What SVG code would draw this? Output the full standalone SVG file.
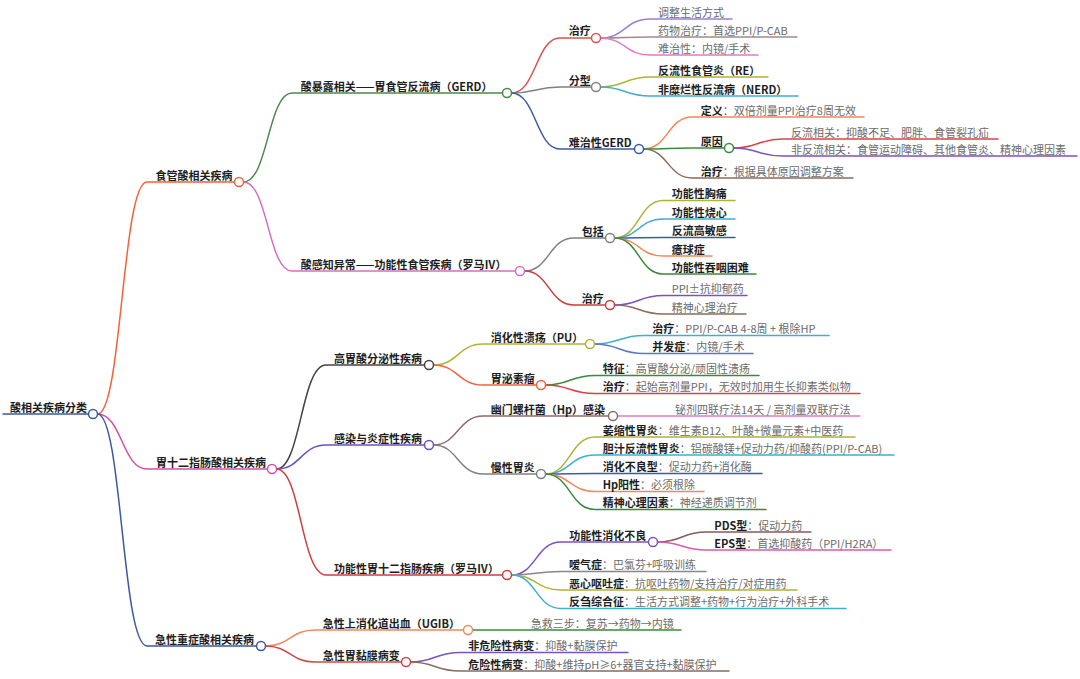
<svg xmlns="http://www.w3.org/2000/svg" width="1080" height="679" viewBox="0 0 1080 679">
<style>
text{font-family:"Noto Sans CJK SC","Noto Sans",sans-serif;font-size:11px;fill:#6b6b6b}
.b{font-weight:700;fill:#1e1e1e}
.c path{fill:none;stroke-width:1.5;stroke-linecap:round}
circle{fill:#fff;stroke-width:1.5}
</style>
<rect width="1080" height="679" fill="#fff"/>
<g id="connectors" class="c">
<path d="M3,414 H88.5" stroke="#3d5a9e"/>
<path d="M97.5,414 C122,414 122,182 147,182 H234.5" stroke="#f4623a"/>
<path d="M97.5,414 C122,414 122,469 147,469 H267.5" stroke="#d44fa8"/>
<path d="M97.5,414 C122,414 122,646 147,646 H256.5" stroke="#3d5a9e"/>
<path d="M243.5,182 C268,182 268,93 292,93 H502" stroke="#4a8a4a"/>
<path d="M243.5,182 C268,182 268,271 292,271 H515.5" stroke="#d46fc0"/>
<path d="M511.5,93 C536,93 536,38 560,38 H591.5" stroke="#d9534f"/>
<path d="M511.5,93 C536,93 536,87 560,87 H591.5" stroke="#808080"/>
<path d="M511.5,93 C536,93 536,149 560,149 H634.5" stroke="#3d5aa8"/>
<path d="M600.5,38 C625,38 625,19 650,19 H732" stroke="#9b7fd4"/>
<path d="M600.5,38 C625,38 625,37 650,37 H797" stroke="#a08c8c"/>
<path d="M600.5,38 C625,38 625,55 650,55 H758" stroke="#e07acb"/>
<path d="M600.5,87 C625,87 625,77 650,77 H768" stroke="#b0b33a"/>
<path d="M600.5,87 C625,87 625,96 650,96 H798" stroke="#3db0d0"/>
<path d="M643.5,149 C668,149 668,117 692,117 H864" stroke="#f5875a"/>
<path d="M643.5,149 C668,149 668,148 692,148 H724.5" stroke="#3a8a3a"/>
<path d="M643.5,149 C668,149 668,178 692,178 H853" stroke="#8b6b5a"/>
<path d="M733.5,148 C758,148 758,139 783,139 H998" stroke="#d64545"/>
<path d="M733.5,148 C758,148 758,156 783,156 H1077" stroke="#7b52c4"/>
<path d="M524.5,271 C549,271 549,238 574,238 H605.5" stroke="#808080"/>
<path d="M524.5,271 C549,271 549,305 574,305 H605.5" stroke="#cc3f3f"/>
<path d="M614.5,238 C639,238 639,200.5 663,200.5 H735" stroke="#b0b33a"/>
<path d="M614.5,238 C639,238 639,219 663,219 H735" stroke="#3db0d0"/>
<path d="M614.5,238 C639,238 639,237.5 663,237.5 H735" stroke="#3d5aa8"/>
<path d="M614.5,238 C639,238 639,256 663,256 H712" stroke="#f5875a"/>
<path d="M614.5,238 C639,238 639,274 663,274 H756" stroke="#3a8a3a"/>
<path d="M614.5,305 C639,305 639,295.5 663,295.5 H747" stroke="#7b52c4"/>
<path d="M614.5,305 C639,305 639,314 663,314 H746" stroke="#8b6b5a"/>
<path d="M276.5,469 C301,469 301,365 326,365 H424.5" stroke="#444"/>
<path d="M276.5,469 C301,469 301,445 326,445 H424.5" stroke="#6b4fc4"/>
<path d="M276.5,469 C301,469 301,575 326,575 H502" stroke="#cc3f3f"/>
<path d="M265.5,646 C290,646 290,630 315,630 H463.5" stroke="#f5875a"/>
<path d="M265.5,646 C290,646 290,662 315,662 H401.5" stroke="#d64545"/>
<path d="M433.5,365 C458,365 458,344 483,344 H585.5" stroke="#b0b33a"/>
<path d="M433.5,365 C458,365 458,385 483,385 H536" stroke="#f4623a"/>
<path d="M594.5,344 C619,344 619,335.5 644,335.5 H829" stroke="#3db0d0"/>
<path d="M594.5,344 C619,344 619,353.5 644,353.5 H753" stroke="#5a7ac0"/>
<path d="M545.5,385 C570,385 570,375.5 595,375.5 H759" stroke="#3a8a3a"/>
<path d="M545.5,385 C570,385 570,393.5 595,393.5 H860" stroke="#d64545"/>
<path d="M433.5,445 C458,445 458,416 483,416 H608.5" stroke="#8b6b6b"/>
<path d="M433.5,445 C458,445 458,474 483,474 H536" stroke="#808080"/>
<path d="M617.5,416 H860" stroke="#e07acb"/>
<path d="M545.5,474 C570,474 570,437 595,437 H855" stroke="#b0b33a"/>
<path d="M545.5,474 C570,474 570,455 595,455 H894" stroke="#3db0d0"/>
<path d="M545.5,474 C570,474 570,473.5 595,473.5 H762" stroke="#3d5aa8"/>
<path d="M545.5,474 C570,474 570,491.5 595,491.5 H704" stroke="#f5875a"/>
<path d="M545.5,474 C570,474 570,509.5 595,509.5 H766" stroke="#3a8a3a"/>
<path d="M511.5,575 C536,575 536,542 561,542 H648" stroke="#7b52c4"/>
<path d="M511.5,575 C536,575 536,571.5 561,571.5 H706" stroke="#888"/>
<path d="M511.5,575 C536,575 536,590 561,590 H797" stroke="#b0b33a"/>
<path d="M511.5,575 C536,575 536,608.5 561,608.5 H846" stroke="#3db0d0"/>
<path d="M657.5,542 C682,542 682,532 706,532 H811" stroke="#8b5a5a"/>
<path d="M657.5,542 C682,542 682,550 706,550 H891" stroke="#e05aa8"/>
<path d="M472.5,630 H681" stroke="#3a8a3a"/>
<path d="M410.5,662 C435,662 435,652.5 460,652.5 H628" stroke="#7b52c4"/>
<path d="M410.5,662 C435,662 435,671 460,671 H729" stroke="#8b6b5a"/>
</g>
<g id="n-root"><text x="10" y="411.5" class="b">酸相关疾病分类</text><circle cx="93" cy="414" r="4.5" stroke="#3d5a9e"/></g>
<g id="n-esoph"><text x="155.5" y="179.5" class="b">食管酸相关疾病</text><circle cx="239" cy="182" r="4.5" stroke="#f4623a"/></g>
<g id="n-gastro"><text x="156" y="466.5" class="b">胃十二指肠酸相关疾病</text><circle cx="272" cy="469" r="4.5" stroke="#d44fa8"/></g>
<g id="n-acute"><text x="155" y="643.5" class="b">急性重症酸相关疾病</text><circle cx="261" cy="646" r="4.5" stroke="#3d5a9e"/></g>
<g id="n-gerd"><text x="300.7" y="90.5" class="b">酸暴露相关——胃食管反流病（GERD）</text><circle cx="507" cy="93" r="4.5" stroke="#4a8a4a"/></g>
<g id="n-func-eso"><text x="300.7" y="268.5" class="b">酸感知异常——功能性食管疾病（罗马Ⅳ）</text><circle cx="520" cy="271" r="4.5" stroke="#d46fc0"/></g>
<g id="n-gerd-tx"><text x="568.7" y="35.2" class="b">治疗</text><circle cx="596" cy="38" r="4.5" stroke="#d9534f"/></g>
<g id="n-gerd-type"><text x="568.7" y="84.5" class="b">分型</text><circle cx="596" cy="87" r="4.5" stroke="#808080"/></g>
<g id="n-rgerd"><text x="568.7" y="146.5" class="b">难治性GERD</text><circle cx="639" cy="149" r="4.5" stroke="#3d5aa8"/></g>
<g id="n-tx1"><text x="658" y="16.5">调整生活方式</text></g>
<g id="n-tx2"><text x="658" y="34.8">药物治疗：首选PPI/P-CAB</text></g>
<g id="n-tx3"><text x="658" y="52.5">难治性：内镜/手术</text></g>
<g id="n-re"><text x="658" y="74.5" class="b">反流性食管炎（RE）</text></g>
<g id="n-nerd"><text x="658" y="93.5" class="b">非糜烂性反流病（NERD）</text></g>
<g id="n-def"><text x="700.7" y="114.8"><tspan class="b">定义</tspan>：双倍剂量PPI治疗8周无效</text></g>
<g id="n-cause"><text x="700.7" y="145.5" class="b">原因</text><circle cx="729" cy="148" r="4.5" stroke="#3a8a3a"/></g>
<g id="n-rtx"><text x="700.7" y="175.8"><tspan class="b">治疗</tspan>：根据具体原因调整方案</text></g>
<g id="n-c1"><text x="791" y="136.8">反流相关：抑酸不足、肥胖、食管裂孔疝</text></g>
<g id="n-c2"><text x="791" y="153.5">非反流相关：食管运动障碍、其他食管炎、精神心理因素</text></g>
<g id="n-incl"><text x="581.7" y="235.5" class="b">包括</text><circle cx="610" cy="238" r="4.5" stroke="#808080"/></g>
<g id="n-ftx"><text x="581.7" y="302.5" class="b">治疗</text><circle cx="610" cy="305" r="4.5" stroke="#cc3f3f"/></g>
<g id="n-i1"><text x="671.7" y="198" class="b">功能性胸痛</text></g>
<g id="n-i2"><text x="671.7" y="216.5" class="b">功能性烧心</text></g>
<g id="n-i3"><text x="671.7" y="235" class="b">反流高敏感</text></g>
<g id="n-i4"><text x="671.7" y="253.5" class="b">癔球症</text></g>
<g id="n-i5"><text x="671.7" y="271.5" class="b">功能性吞咽困难</text></g>
<g id="n-f1"><text x="671.7" y="293">PPI±抗抑郁药</text></g>
<g id="n-f2"><text x="671.7" y="311.5">精神心理治疗</text></g>
<g id="n-hyper"><text x="334" y="362.5" class="b">高胃酸分泌性疾病</text><circle cx="429" cy="365" r="4.5" stroke="#444"/></g>
<g id="n-infl"><text x="334" y="442.5" class="b">感染与炎症性疾病</text><circle cx="429" cy="445" r="4.5" stroke="#6b4fc4"/></g>
<g id="n-fgid"><text x="334" y="572.5" class="b">功能性胃十二指肠疾病（罗马Ⅳ）</text><circle cx="507" cy="575" r="4.5" stroke="#cc3f3f"/></g>
<g id="n-ugib"><text x="322.7" y="627.5" class="b">急性上消化道出血（UGIB）</text><circle cx="468" cy="630" r="4.5" stroke="#f5875a"/></g>
<g id="n-agml"><text x="322.7" y="659.5" class="b">急性胃黏膜病变</text><circle cx="406" cy="662" r="4.5" stroke="#d64545"/></g>
<g id="n-pu"><text x="490.7" y="341.5" class="b">消化性溃疡（PU）</text><circle cx="590" cy="344" r="4.5" stroke="#b0b33a"/></g>
<g id="n-zes"><text x="490.7" y="382.5" class="b">胃泌素瘤</text><circle cx="541" cy="385" r="4.5" stroke="#f4623a"/></g>
<g id="n-pu1"><text x="652.3" y="333"><tspan class="b">治疗</tspan>：PPI/P-CAB 4-8周 + 根除HP</text></g>
<g id="n-pu2"><text x="652.3" y="351"><tspan class="b">并发症</tspan>：内镜/手术</text></g>
<g id="n-z1"><text x="602.7" y="373"><tspan class="b">特征</tspan>：高胃酸分泌/顽固性溃疡</text></g>
<g id="n-z2"><text x="602.7" y="391"><tspan class="b">治疗</tspan>：起始高剂量PPI，无效时加用生长抑素类似物</text></g>
<g id="n-hp"><text x="490.7" y="413.5" class="b">幽门螺杆菌（Hp）感染</text><circle cx="613" cy="416" r="4.5" stroke="#8b6b6b"/></g>
<g id="n-cg"><text x="490.7" y="471.5" class="b">慢性胃炎</text><circle cx="541" cy="474" r="4.5" stroke="#808080"/></g>
<g id="n-hp1"><text x="675" y="413.5">铋剂四联疗法14天 / 高剂量双联疗法</text></g>
<g id="n-cg1"><text x="602.7" y="434.5"><tspan class="b">萎缩性胃炎</tspan>：维生素B12、叶酸+微量元素+中医药</text></g>
<g id="n-cg2"><text x="602.7" y="452.5"><tspan class="b">胆汁反流性胃炎</tspan>：铝碳酸镁+促动力药/抑酸药(PPI/P-CAB)</text></g>
<g id="n-cg3"><text x="602.7" y="471"><tspan class="b">消化不良型</tspan>：促动力药+消化酶</text></g>
<g id="n-cg4"><text x="602.7" y="489"><tspan class="b">Hp阳性</tspan>：必须根除</text></g>
<g id="n-cg5"><text x="602.7" y="507"><tspan class="b">精神心理因素</tspan>：神经递质调节剂</text></g>
<g id="n-fd"><text x="569.3" y="539.5" class="b">功能性消化不良</text><circle cx="653" cy="542" r="4.5" stroke="#7b52c4"/></g>
<g id="n-fg1"><text x="569" y="569"><tspan class="b">嗳气症</tspan>：巴氯芬+呼吸训练</text></g>
<g id="n-fg2"><text x="569" y="587.5"><tspan class="b">恶心呕吐症</tspan>：抗呕吐药物/支持治疗/对症用药</text></g>
<g id="n-fg3"><text x="569" y="606"><tspan class="b">反刍综合征</tspan>：生活方式调整+药物+行为治疗+外科手术</text></g>
<g id="n-pds"><text x="714.3" y="529.5"><tspan class="b">PDS型</tspan>：促动力药</text></g>
<g id="n-eps"><text x="714.3" y="547.5"><tspan class="b">EPS型</tspan>：首选抑酸药（PPI/H2RA）</text></g>
<g id="n-ug1"><text x="530.7" y="627.5">急救三步：复苏→药物→内镜</text></g>
<g id="n-ag1"><text x="468.3" y="650"><tspan class="b">非危险性病变</tspan>：抑酸+黏膜保护</text></g>
<g id="n-ag2"><text x="468.3" y="668.5"><tspan class="b">危险性病变</tspan>：抑酸+维持pH≥6+器官支持+黏膜保护</text></g>
</svg>
